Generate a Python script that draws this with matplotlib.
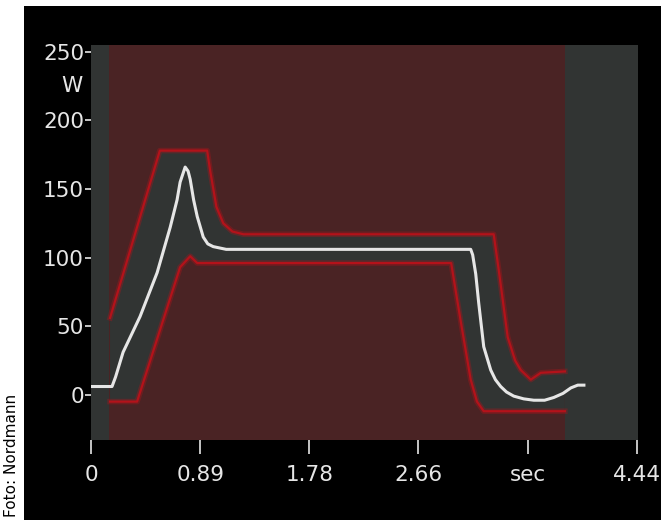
import numpy as np
import matplotlib
matplotlib.use("Agg")
import matplotlib.pyplot as plt
from matplotlib.patches import Rectangle
from matplotlib.transforms import blended_transform_factory

## DATA

# measured power curve [sec, W]
curve_t = [0.0, 0.171, 0.20, 0.261, 0.399, 0.538, 0.644, 0.70, 0.725, 0.766, 0.79, 0.807,
           0.835, 0.864, 0.913, 0.95, 0.994, 1.10, 3.089, 3.105, 3.13, 3.154, 3.195,
           3.252, 3.29, 3.333, 3.38, 3.439, 3.52, 3.602, 3.69, 3.765, 3.84, 3.904, 3.96, 4.01]
curve_w = [6, 6, 13, 31, 57, 89, 122, 142, 155, 166, 163, 157,
           142, 130, 115, 110, 108, 106, 106, 102, 88, 67, 35,
           18, 11, 6, 2, -1, -3, -4, -4, -2, 1, 5, 7, 7]

# upper tolerance envelope
upper_t = [0.155, 0.56, 0.945, 0.97, 1.02, 1.076, 1.15, 1.24, 3.276, 3.317, 3.39, 3.45,
           3.496, 3.578, 3.659, 3.855]
upper_w = [56, 178, 178, 163, 137, 125, 119, 117, 117, 91, 42, 25,
           18, 11, 16, 17]

# lower tolerance envelope
lower_t = [0.155, 0.375, 0.725, 0.807, 0.864, 2.93, 3.007, 3.089, 3.14, 3.195, 3.855]
lower_w = [-5, -5, 93, 101, 96, 96, 54, 11, -5, -12, -12]

# monitoring window
window = [0.15, 3.855]

x_ticks = [0.0, 0.888, 1.776, 2.664, 3.552, 4.44]
x_labels = ['0', '0.89', '1.78', '2.66', 'sec', '4.44']
y_ticks = [0, 50, 100, 150, 200, 250]
y_labels = ['0', '50', '100', '150', '200', '250']

## PLOT

GRAY = '#313433'
RED_BG = '#4a2324'
RED = '#b3121a'
TXT = '#e6e6e6'

fig = plt.figure(figsize=(6.61, 5.2), dpi=100, facecolor='black')
# white photo-credit strip on the left and thin strip on top
fig.patches.append(Rectangle((0, 0), 24/661, 1, transform=fig.transFigure,
                             facecolor='white', edgecolor='none', zorder=-1))
fig.patches.append(Rectangle((0, 514/520), 1, 6/520, transform=fig.transFigure,
                             facecolor='white', edgecolor='none', zorder=-1))

ax = fig.add_axes([91/661, 80/520, 547/661, 395/520])
ax.set_zorder(2)
ax.set_facecolor(GRAY)
ax.set_xlim(0, 4.45)
ax.set_ylim(-33, 255)

ax.axvspan(window[0], window[1], color=RED_BG, lw=0, zorder=1)
ax.fill(np.concatenate([upper_t, lower_t[::-1]]),
        np.concatenate([upper_w, lower_w[::-1]]), color=GRAY, lw=0, zorder=2)

for t, w in [(upper_t, upper_w), (lower_t, lower_w)]:
  ax.plot(t, w, c=RED, lw=4, alpha=0.35, zorder=3, solid_joinstyle='round')
  ax.plot(t, w, c=RED, lw=1.6, zorder=4, solid_joinstyle='round')

ax.plot(curve_t, curve_w, c=TXT, lw=2.2, zorder=5, solid_joinstyle='round')

for s in ax.spines.values():
  s.set_visible(False)

ax.set_xticks(x_ticks)
ax.set_xticklabels(x_labels)
ax.set_yticks(y_ticks)
ax.set_yticklabels(y_labels)
ax.tick_params(axis='x', colors=TXT, length=10, width=1.2, pad=8, labelsize=15.5)
ax.tick_params(axis='y', colors=TXT, length=4, width=1.2, pad=1, labelsize=15.5)

trans = blended_transform_factory(ax.transAxes, ax.transData)
ax.text(-0.016, 225, 'W', transform=trans, ha='right', va='center', color=TXT, fontsize=15.5)

fig.text(12/661, (520-455)/520, 'Foto: Nordmann', rotation=90, ha='center', va='center',
         color='black', fontsize=11, zorder=3)

fig.savefig('out.png', dpi=100, facecolor=fig.get_facecolor())
